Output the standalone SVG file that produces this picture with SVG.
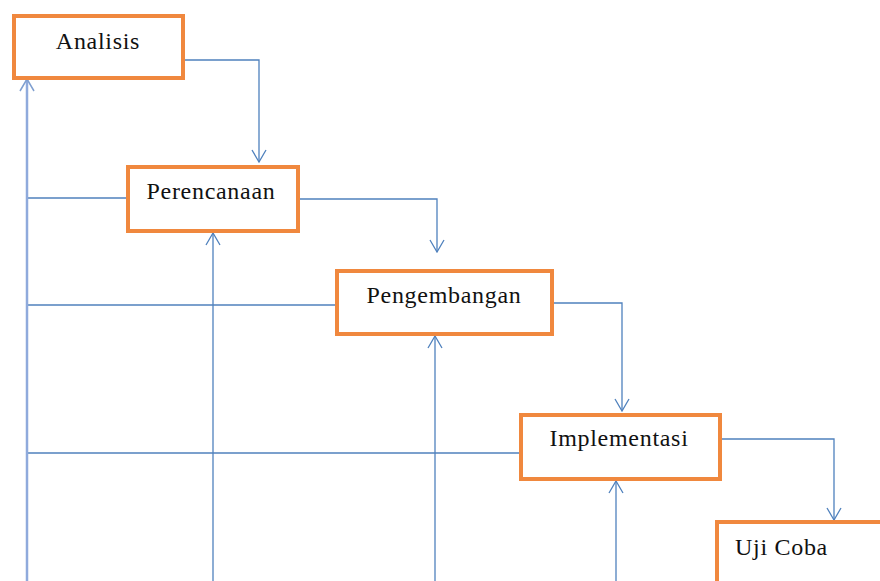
<svg xmlns="http://www.w3.org/2000/svg" width="880" height="581" viewBox="0 0 880 581">
<defs>
<style>
.box{fill:#fff;stroke:#F0883E;stroke-width:4}
.lbl{font-family:"Liberation Serif","Times New Roman",serif;font-size:24px;fill:#111;letter-spacing:0.7px}
.ln{fill:none;stroke:#4F81BD;stroke-width:1.3}
.lnl{fill:none;stroke:#8FAADC;stroke-width:2.5}
</style>
<marker id="arr" viewBox="0 0 14 16" refX="13" refY="8" markerWidth="14" markerHeight="16" markerUnits="userSpaceOnUse" orient="auto">
<path d="M1,1 L13,8 L1,15" fill="none" stroke="#4F81BD" stroke-width="1.3"/>
</marker>
<marker id="arrl" viewBox="0 0 14 16" refX="13" refY="8" markerWidth="14" markerHeight="16" markerUnits="userSpaceOnUse" orient="auto">
<path d="M1,1 L13,8 L1,15" fill="none" stroke="#7F9FD0" stroke-width="1.5"/>
</marker>
</defs>
<rect width="880" height="581" fill="#fff"/>
<g id="connectors">
<path class="ln" d="M183,60 H259 V162" marker-end="url(#arr)"/>
<path class="ln" d="M298,199 H437 V252" marker-end="url(#arr)"/>
<path class="ln" d="M552,303 H622 V411" marker-end="url(#arr)"/>
<path class="ln" d="M720,439 H834 V520" marker-end="url(#arr)"/>
<path class="ln" d="M27,198 H128"/>
<path class="ln" d="M27,305 H337"/>
<path class="ln" d="M27,453 H521"/>
<path class="ln" d="M213,581 V233" marker-end="url(#arr)"/>
<path class="ln" d="M435,581 V336" marker-end="url(#arr)"/>
<path class="ln" d="M616,581 V481" marker-end="url(#arr)"/>
<path class="lnl" d="M27,581 V79" marker-end="url(#arrl)"/>
</g>
<g id="analisis">
<rect class="box" x="14" y="16" width="169" height="62"/>
<text class="lbl" x="98" y="49" text-anchor="middle">Analisis</text>
</g>
<g id="perencanaan">
<rect class="box" x="128" y="167" width="170" height="64"/>
<text class="lbl" x="211" y="199" text-anchor="middle">Perencanaan</text>
</g>
<g id="pengembangan">
<rect class="box" x="337" y="271" width="215" height="63"/>
<text class="lbl" x="444" y="303" text-anchor="middle">Pengembangan</text>
</g>
<g id="implementasi">
<rect class="box" x="521" y="415" width="199" height="64"/>
<text class="lbl" x="619" y="446" text-anchor="middle">Implementasi</text>
</g>
<g id="uji-coba">
<rect class="box" x="717" y="522" width="180" height="80"/>
<text class="lbl" x="735" y="555">Uji Coba</text>
</g>
</svg>
